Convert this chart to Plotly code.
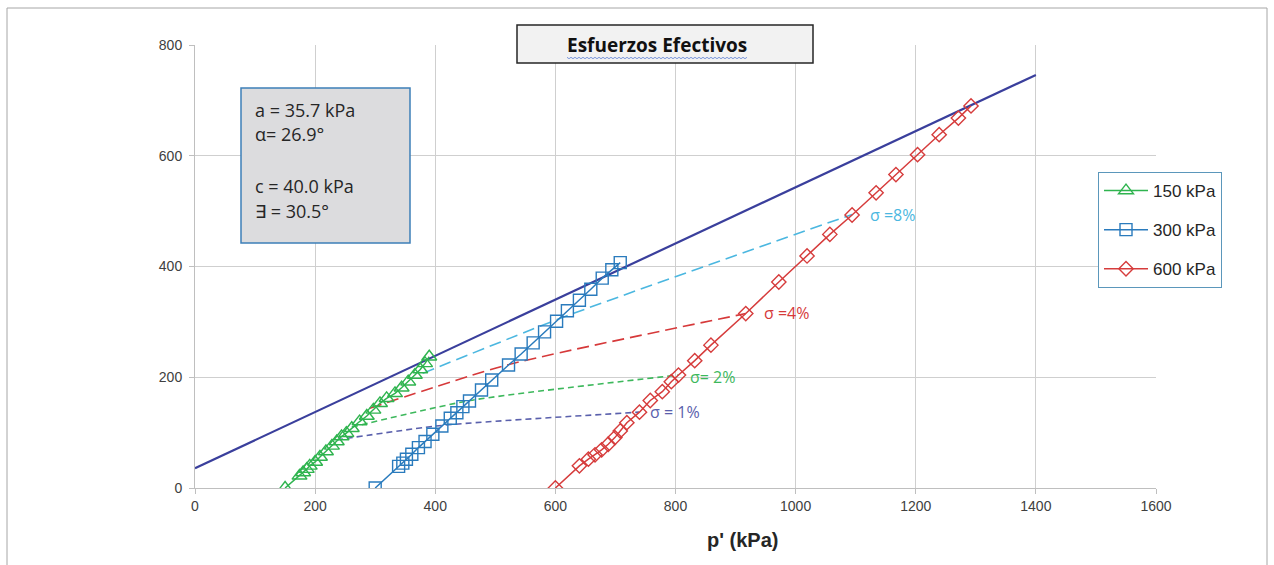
import math
import plotly.graph_objects as go

# Stress paths p'-q for three confining pressures
p_150 = [150, 174, 180, 186, 191, 200, 208, 218, 228, 236, 244, 252, 261, 274, 286, 297, 308, 319, 333, 344, 355, 366, 375, 383, 390]
q_150 = [0, 22, 28, 34, 40, 47, 56, 66, 76, 84, 93, 99, 108, 120, 130, 141, 153, 162, 171, 181, 192, 204, 214, 225, 237]

p_300 = [300, 339, 346, 352, 361, 372, 383, 396, 411, 425, 436, 446, 457, 477, 494, 522, 543, 563, 582, 602, 620, 640, 659, 678, 694, 708]
q_300 = [0, 39, 45, 52, 61, 73, 84, 97, 112, 126, 136, 147, 157, 177, 195, 222, 242, 262, 282, 301, 320, 339, 359, 379, 394, 407]

p_600 = [600, 640, 655, 666, 677, 688, 699, 708, 719, 740, 758, 778, 793, 805, 832, 859, 917, 972, 1019, 1057, 1094, 1134, 1167, 1203, 1239, 1271, 1292]
q_600 = [0, 40, 52, 60, 69, 79, 91, 103, 118, 137, 158, 174, 192, 204, 230, 258, 315, 372, 419, 458, 493, 533, 566, 602, 638, 668, 690]

# Equal-strain contours joining the three paths
e1_p = [236, 411, 740]
e1_q = [87, 113, 137]
e2_p = [261, 458, 805]
e2_q = [110, 158, 204]
e4_p = [291, 519, 917]
e4_q = [144, 222, 315]
e8_p = [379, 622, 1094]
e8_q = [207, 312, 494]

# Failure envelope parameters
a_kpa = 35.7
alpha_deg = 26.9
c_kpa = 40.0
phi_deg = 30.5
envelope_p = [0, 1400]
envelope_q = [a_kpa + math.tan(math.radians(alpha_deg)) * p for p in envelope_p]

x_ticks = [0, 200, 400, 600, 800, 1000, 1200, 1400, 1600]
y_ticks = [0, 200, 400, 600, 800]

GREEN = "#2fb44f"
BLUE = "#2a7bbd"
RED = "#d63c3c"
ENV = "#3a3f9c"
C1 = "#5a60ac"
C2 = "#3db85c"
C4 = "#d6393a"
C8 = "#4bb7e0"

# plot-area geometry in pixels, used to place boxes in paper units
L, R, T, B = 195, 1156, 45, 488


def px(x):
    return (x - L) / (R - L)


def py(y):
    return (B - y) / (B - T)


fig = go.Figure()

fig.add_trace(go.Scatter(x=envelope_p, y=envelope_q, mode="lines",
                         line=dict(color=ENV, width=2.2), showlegend=False))

for cx, cy, col, dash in [(e1_p, e1_q, C1, "6px,4px"), (e2_p, e2_q, C2, "6px,4px"),
                          (e4_p, e4_q, C4, "12px,6px"), (e8_p, e8_q, C8, "12px,6px")]:
    fig.add_trace(go.Scatter(x=cx, y=cy, mode="lines",
                             line=dict(color=col, width=1.6, dash=dash, shape="spline", smoothing=0.6),
                             showlegend=False))

fig.add_trace(go.Scatter(x=p_150, y=q_150, mode="lines+markers", name="150 kPa",
                         legendgroup="g1",
                         line=dict(color=GREEN, width=1.5),
                         marker=dict(symbol="triangle-up-open", size=13, color=GREEN, line=dict(width=1.4))))
fig.add_trace(go.Scatter(x=p_300, y=q_300, mode="lines+markers", name="300 kPa",
                         legendgroup="g2",
                         line=dict(color=BLUE, width=1.5),
                         marker=dict(symbol="square-open", size=12, color=BLUE, line=dict(width=1.4))))
fig.add_trace(go.Scatter(x=p_600, y=q_600, mode="lines+markers", name="600 kPa",
                         legendgroup="g3",
                         line=dict(color=RED, width=1.5),
                         marker=dict(symbol="diamond-open", size=11, color=RED, line=dict(width=1.4))))

# Strain labels
for txt, x, y, col in [("σ = 1%", 754, 137, C1), ("σ= 2%", 821, 200, C2),
                       ("σ =4%", 944, 316, C4), ("σ =8%", 1121, 493, C8)]:
    fig.add_annotation(x=x, y=y, text=txt, showarrow=False, xanchor="left", yanchor="middle",
                       font=dict(family="Open Sans, Arial", size=16, color=col))

# spell-check style wavy underline under the title
wave_pts = []
xw = 567
i = 0
while xw <= 748:
    wave_pts.append((px(xw), py(57.5 + (1.2 if i % 2 else -0.2))))
    xw += 2
    i += 1
wave_path = "M " + " L ".join(f"{a:.5f},{b:.5f}" for a, b in wave_pts)

shapes = [
    # outer frame
    dict(type="rect", xref="paper", yref="paper", x0=px(7), x1=px(1267), y0=py(580), y1=py(8),
         line=dict(color="#a6a6a6", width=1), fillcolor="rgba(0,0,0,0)", layer="below"),
    # title box
    dict(type="rect", xref="paper", yref="paper", x0=px(517), x1=px(813), y0=py(63), y1=py(25),
         line=dict(color="#262626", width=1.5), fillcolor="#f2f2f2"),
    dict(type="path", xref="paper", yref="paper", path=wave_path,
         line=dict(color="#5b7fd6", width=0.8)),
    # parameters box
    dict(type="rect", xref="paper", yref="paper", x0=px(241), x1=px(410), y0=py(243), y1=py(88),
         line=dict(color="#3d7fb8", width=1.5), fillcolor="#dcdcde"),
]
fig.update_layout(shapes=shapes)

fig.add_annotation(xref="paper", yref="paper", x=px(657), y=py(45), text="<b>Esfuerzos Efectivos</b>",
                   showarrow=False, xanchor="center", yanchor="middle",
                   font=dict(family="Open Sans, Arial", size=19, color="#111111"))

box_lines = [(f"a = {a_kpa:.1f} kPa", 110), (f"α= {alpha_deg:.1f}°", 134),
             (f"c = {c_kpa:.1f} kPa", 186), (f"∃ = {phi_deg:.1f}°", 211)]
for txt, yy in box_lines:
    fig.add_annotation(xref="paper", yref="paper", x=px(253), y=py(yy),
                       text=txt, showarrow=False, xanchor="left", yanchor="middle",
                       font=dict(family="Open Sans, Arial", size=18, color="#262626"))

# x-axis title
fig.add_annotation(xref="paper", yref="paper", x=px(742), y=py(540), text="<b>p' (kPa)</b>",
                   showarrow=False, xanchor="center", yanchor="middle",
                   font=dict(family="Arial, Liberation Sans", size=20, color="#262626"))

fig.update_layout(
    width=1274, height=565,
    margin=dict(l=195, r=118, t=45, b=77),
    paper_bgcolor="white", plot_bgcolor="white",
    font=dict(family="Arial, Liberation Sans", color="#404040"),
    legend=dict(x=px(1098), y=py(172), xanchor="left", yanchor="top",
                bordercolor="#5b97bb", borderwidth=1, bgcolor="white",
                font=dict(family="Arial, Liberation Sans", size=17, color="#262626"),
                tracegroupgap=14, itemwidth=44),
    xaxis=dict(range=[0, 1600], tickvals=x_ticks, ticktext=[str(v) for v in x_ticks],
               showgrid=True, gridcolor="#cfcfcf", gridwidth=1, zeroline=False,
               showline=True, linecolor="#bfbfbf", ticks="outside", ticklen=5, tickcolor="#bfbfbf",
               tickfont=dict(size=14, color="#404040")),
    yaxis=dict(range=[0, 800], tickvals=y_ticks, ticktext=[str(v) for v in y_ticks],
               showgrid=True, gridcolor="#cfcfcf", gridwidth=1, zeroline=False,
               showline=True, linecolor="#bfbfbf", ticks="outside", ticklen=5, tickcolor="#bfbfbf",
               tickfont=dict(size=14, color="#404040"), ticklabelstandoff=4),
)

fig.write_html("out.html")
